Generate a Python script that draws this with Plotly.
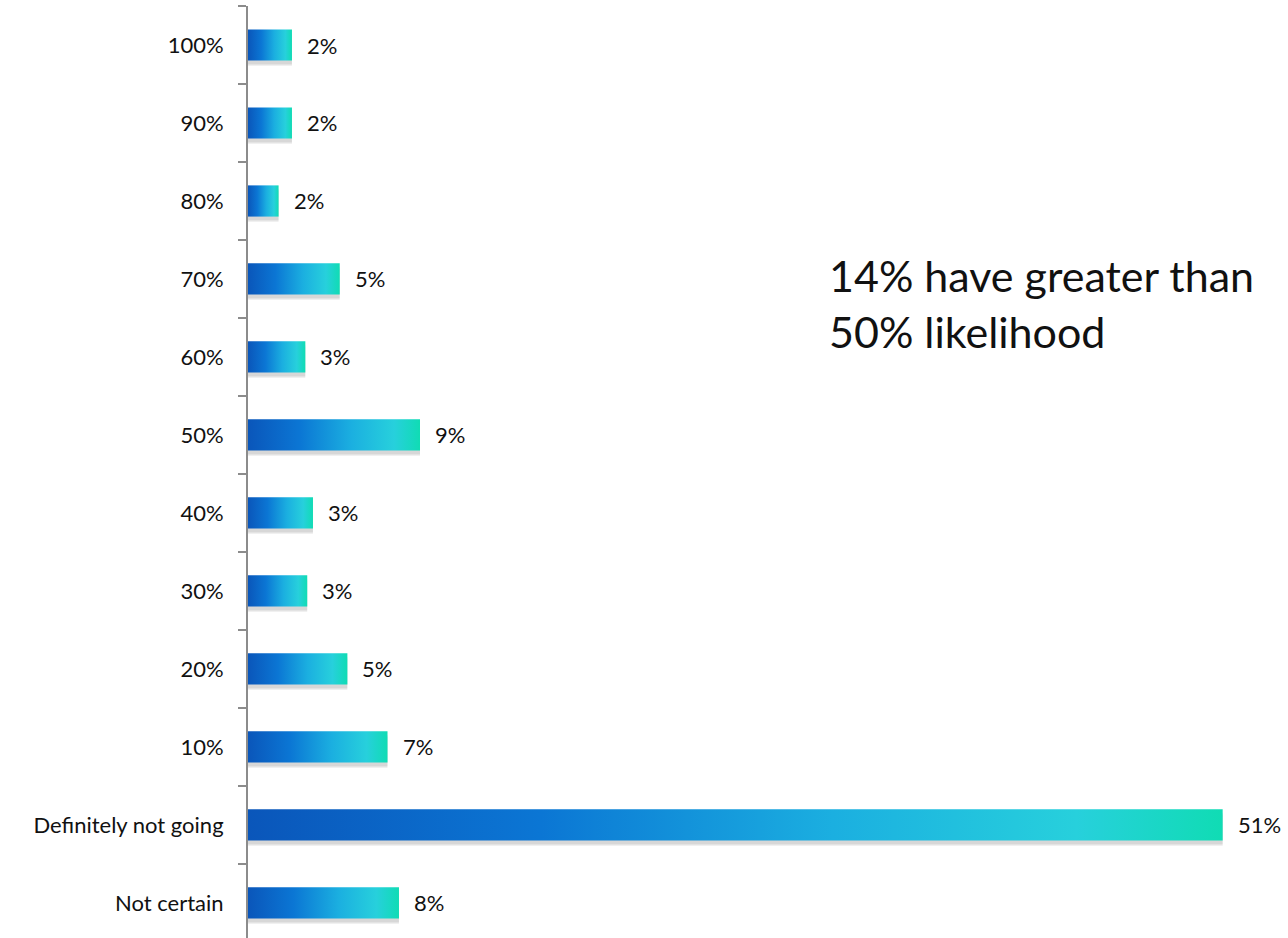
import plotly.graph_objects as go

categories = ["Not certain", "Definitely not going", "10%", "20%", "30%", "40%",
              "50%", "60%", "70%", "80%", "90%", "100%"]
values = [7.9, 51.0, 7.3, 5.2, 3.1, 3.4, 9.0, 3.0, 4.8, 1.6, 2.3, 2.3]
labels = ["8%", "51%", "7%", "5%", "3%", "3%", "9%", "3%", "5%", "2%", "2%", "2%"]
note_text = "14% have greater than<br>50% likelihood"

FONT = "Lato, 'Noto Sans', sans-serif"
bar_half = 0.2
shadow_dy = 0.05
colorscale = [[0.0, "#0a56ba"], [0.3, "#0b76d4"], [0.6, "#1bafe0"],
              [0.85, "#27d0dc"], [1.0, "#10dcb4"]]

fig = go.Figure()

positions = list(range(len(categories)))

# soft shadows
for pos, v in zip(positions, values):
    for dy, a in [(shadow_dy + 0.02, 0.06), (shadow_dy, 0.10)]:
        fig.add_trace(go.Scatter(
            x=[0, v, v, 0, 0],
            y=[pos - bar_half - dy, pos - bar_half - dy,
               pos + bar_half - dy, pos + bar_half - dy,
               pos - bar_half - dy],
            mode="lines", line=dict(width=0), fill="toself",
            fillcolor=f"rgba(0,0,0,{a})", hoverinfo="skip", showlegend=False))

# gradient bars
for pos, v, c in zip(positions, values, categories):
    fig.add_trace(go.Scatter(
        x=[0, v, v, 0, 0],
        y=[pos - bar_half, pos - bar_half, pos + bar_half, pos + bar_half, pos - bar_half],
        mode="lines", line=dict(width=0), fill="toself",
        fillgradient=dict(type="horizontal", colorscale=colorscale),
        name=c, showlegend=False, hoverinfo="skip"))

for pos, v, t in zip(positions, values, labels):
    fig.add_annotation(x=v, y=pos, text=t, showarrow=False, xanchor="left",
                       yanchor="middle", xshift=13,
                       font=dict(family=FONT, size=22, color="#111"))

fig.add_annotation(xref="paper", yref="paper", x=0.561, y=0.681, text=note_text,
                   showarrow=False, xanchor="left", yanchor="middle", align="left",
                   font=dict(family=FONT, size=43, color="#111"))

fig.update_layout(
    width=1288, height=938,
    margin=dict(l=248, r=8, t=6, b=0),
    plot_bgcolor="white", paper_bgcolor="white",
    font=dict(family=FONT, size=22, color="#111"),
    xaxis=dict(range=[0, 54], visible=False, fixedrange=True),
    yaxis=dict(range=[-0.45, len(categories) - 0.5],
               tickmode="array", tickvals=positions, ticktext=categories,
               ticks="", showgrid=False, zeroline=False,
               showline=True, linecolor="#8c8c8c", linewidth=2,
               ticklabelstandoff=18,
               tickfont=dict(family=FONT, size=22, color="#111"),
               minor=dict(tickmode="array",
                          tickvals=[p - 0.5 for p in positions] + [len(categories) - 0.5],
                          ticks="outside", ticklen=8, tickcolor="#8c8c8c",
                          tickwidth=2, showgrid=False),
               fixedrange=True),
)

fig.write_html("out.html", config={"displayModeBar": False},
               post_script="document.body.style.margin='0';document.body.style.overflow='hidden';")
